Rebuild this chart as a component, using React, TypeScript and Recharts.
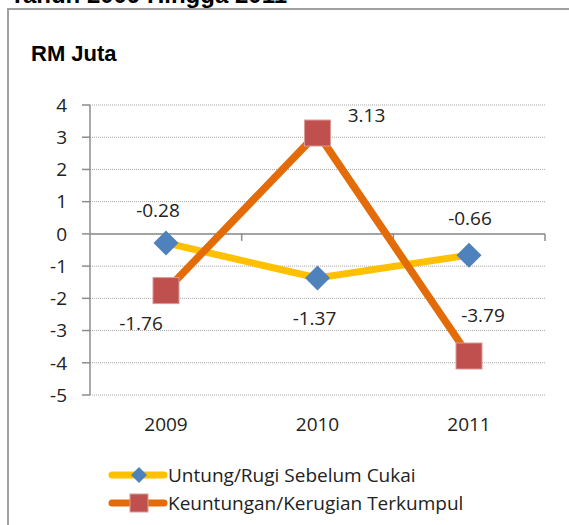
import React from "react";
import {
  LineChart, Line, XAxis, YAxis, CartesianGrid, ReferenceLine, LabelList, Legend
} from "recharts";

const years = ["2009", "2010", "2011"];
const untungRugi = [-0.28, -1.37, -0.66];
const terkumpul = [-1.76, 3.13, -3.79];
const yTicks = [-5, -4, -3, -2, -1, 0, 1, 2, 3, 4];

const data = years.map((year, i) => ({
  year,
  untungRugi: untungRugi[i],
  terkumpul: terkumpul[i],
}));

// Excel put the data labels by hand, so nudge each one (dx, dy from the point)
const untungLabelOffset = [[-8, -33], [-3, 40], [1, -37]];
const terkumpulLabelOffset = [[-25, 32], [49, -18], [14, -41]];

const legendOrder = ["untungRugi", "terkumpul"];

const FONT = "'Open Sans', 'Noto Sans', sans-serif";
const TEXT = "#222";
const AXIS = "#8c8c8c";

const Diamond = ({ cx, cy, size = 12.5 }: any) => {
  if (cx == null || cy == null) return <g />;
  const r = size;
  return (
    <polygon
      points={`${cx},${cy - r} ${cx + r},${cy} ${cx},${cy + r} ${cx - r},${cy}`}
      fill="#4F81BD"
    />
  );
};

const Square = ({ cx, cy, size = 13 }: any) => {
  if (cx == null || cy == null) return <g />;
  const s = size;
  return (
    <rect x={cx - s} y={cy - s} width={s * 2} height={s * 2}
      fill="#C0504D" stroke="#d99a98" strokeWidth={1} />
  );
};

const makeLabel = (values: number[], offsets: number[][]) => (p: any) => {
  const i = typeof p.index === "number" ? p.index : values.indexOf(p.value);
  const [dx, dy] = offsets[i] || [0, 0];
  return (
    <text x={p.x + dx} y={p.y + dy} textAnchor="middle" dominantBaseline="central"
      fontFamily={FONT} fontSize={19} fill={TEXT}>
      {p.value}
    </text>
  );
};

// zero line with the little category ticks hanging off it
const ZeroAxis = (p: any) => {
  const { x1, x2, y1 } = p;
  if (x1 == null) return <g />;
  const step = (x2 - x1) / years.length;
  return (
    <g>
      <line x1={x1} x2={x2} y1={y1} y2={y1} stroke={AXIS} strokeWidth={1.5} />
      {years.map((_, i) => (
        <line key={i} x1={x1 + step * (i + 1)} x2={x1 + step * (i + 1)}
          y1={y1} y2={y1 + 7} stroke={AXIS} strokeWidth={1.5} />
      ))}
    </g>
  );
};

const legendMarker: Record<string, (cx: number, cy: number) => React.ReactNode> = {
  untungRugi: (cx, cy) => <Diamond cx={cx} cy={cy} size={8} />,
  terkumpul: (cx, cy) => <Square cx={cx} cy={cy} size={9} />,
};

const renderLegend = (props: any) => {
  const items = [...(props.payload || [])].sort(
    (a: any, b: any) => legendOrder.indexOf(a.dataKey) - legendOrder.indexOf(b.dataKey)
  );
  return (
    <div style={{ fontFamily: FONT, fontSize: 19, color: TEXT }}>
      {items.map((entry: any) => (
        <div key={entry.value} style={{ display: "flex", alignItems: "center", height: 28 }}>
          <svg width={60} height={28} style={{ flexShrink: 0 }}>
            <line x1={4} x2={56} y1={14} y2={14} stroke={entry.color}
              strokeWidth={7} strokeLinecap="round" />
            {legendMarker[entry.dataKey]?.(31, 14)}
          </svg>
          <span style={{ whiteSpace: "nowrap" }}>{entry.value}</span>
        </div>
      ))}
    </div>
  );
};

export default function App() {
  return (
    <div style={{
      position: "absolute", left: 0, top: 0, width: 569, height: 525,
      overflow: "hidden", background: "#fff",
    }}>
      <div style={{
        position: "absolute", left: 10, top: -17, fontFamily: "'Liberation Sans', Arial, sans-serif",
        fontWeight: "bold", fontSize: 24, lineHeight: "24px", color: "#000", whiteSpace: "nowrap",
      }}>
        Tahun 2009 Hingga 2011
      </div>
      <div style={{
        position: "absolute", left: 7, top: 8, width: 600, height: 600,
        borderLeft: "2px solid #a0a0a0", borderTop: "2px solid #a0a0a0",
      }} />
      <div style={{
        position: "absolute", left: 31, top: 42, fontFamily: "'Liberation Sans', Arial, sans-serif",
        fontWeight: "bold", fontSize: 22, lineHeight: "24px", color: "#000",
      }}>
        RM Juta
      </div>
      <div style={{ position: "absolute", left: 0, top: 0 }}>
        <LineChart width={569} height={525} data={data}
          margin={{ top: 105, right: 24, bottom: 100, left: 0 }}>
          <CartesianGrid vertical={false} stroke="#a6a6a6" strokeDasharray="1 1" />
          <XAxis dataKey="year" axisLine={false} tickLine={false} height={30}
            tickMargin={17} padding={{ left: 76, right: 76 }}
            tick={{ fontFamily: FONT, fontSize: 19, fill: TEXT }} />
          <YAxis type="number" domain={[-5, 4]} ticks={yTicks} width={90}
            interval={0} allowDataOverflow
            axisLine={{ stroke: AXIS, strokeWidth: 1.5 }}
            tickLine={{ stroke: AXIS, strokeWidth: 1.5 }} tickSize={8} tickMargin={15}
            tick={{ fontFamily: FONT, fontSize: 19, fill: TEXT }} />
          <ReferenceLine y={0} shape={ZeroAxis} />
          <Legend layout="vertical" align="center" verticalAlign="middle"
            content={renderLegend}
            wrapperStyle={{ top: 461, left: 108, width: 440, height: 56 }} />
          <Line type="linear" dataKey="untungRugi" name="Untung/Rugi Sebelum Cukai"
            stroke="#FFC000" strokeWidth={7} dot={<Diamond />} activeDot={false}
            isAnimationActive={false}>
            <LabelList dataKey="untungRugi"
              content={makeLabel(untungRugi, untungLabelOffset)} />
          </Line>
          <Line type="linear" dataKey="terkumpul" name="Keuntungan/Kerugian Terkumpul"
            stroke="#E36C09" strokeWidth={7.5} dot={<Square />} activeDot={false}
            isAnimationActive={false}>
            <LabelList dataKey="terkumpul"
              content={makeLabel(terkumpul, terkumpulLabelOffset)} />
          </Line>
        </LineChart>
      </div>
    </div>
  );
}
